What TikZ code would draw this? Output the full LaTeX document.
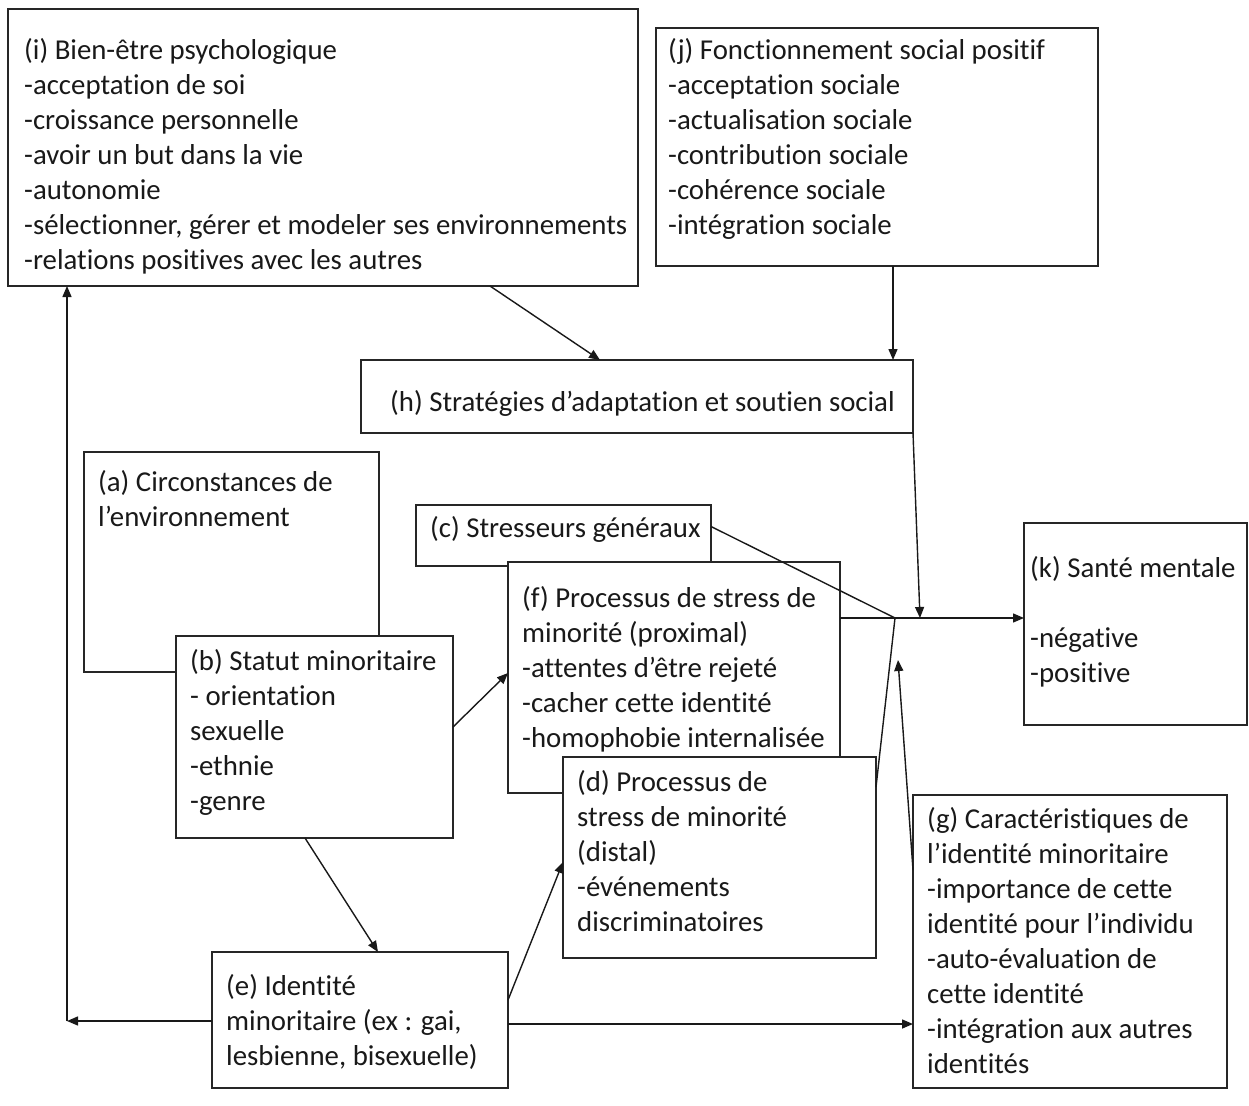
\documentclass[tikz,border=0pt]{standalone}
\usepackage{fontspec}
\setmainfont[Ligatures=NoCommon]{Carlito}
\usetikzlibrary{arrows.meta,calc}
% left-aligned block of lines whose baseline is the first line
\newcommand{\lineblock}[1]{\begin{tabular}[t]{@{}l@{}}#1\end{tabular}}
\begin{document}
\begin{tikzpicture}[x=1pt,y=-1pt,
  box/.style={draw=black!85,line width=1.5pt,fill=white,anchor=north west,inner sep=0pt,outer sep=0pt},
  txt/.style={anchor=base west,inner sep=0pt,text=black!90,font=\fontsize{28.8}{35}\selectfont},
  arr/.style={draw=black!90,line width=1.4pt,-{Triangle[length=11pt,width=9pt]}},
  con/.style={draw=black!90,line width=1.4pt}]
\useasboundingbox (0,0) rectangle (1249,1105);

% boxes and their texts (later boxes overlap earlier ones)
\node[box,minimum width=630,minimum height=277] (i) at (8,9) {};
\node[txt] (ti) at (24,60) {\lineblock{(i) Bien-être psychologique\\-acceptation de soi\\-croissance personnelle\\-avoir un but dans la vie\\-autonomie\\-sélectionner, gérer et modeler ses environnements\\-relations positives avec les autres}};

\node[box,minimum width=442,minimum height=238] (j) at (656,28) {};
\node[txt] (tj) at (668,60) {\lineblock{(j) Fonctionnement social positif\\-acceptation sociale\\-actualisation sociale\\-contribution sociale\\-cohérence sociale\\-intégration sociale}};

\node[box,minimum width=552,minimum height=73] (h) at (361,360) {};
\node[txt] (th) at (390,411) {(h) Stratégies d’adaptation et soutien social};

\node[box,minimum width=295,minimum height=220] (a) at (84,452) {};
\node[txt] (ta) at (98,491) {\lineblock{(a) Circonstances de\\l’environnement}};

\node[box,minimum width=277,minimum height=202] (b) at (176,636) {};
\node[txt] (tb) at (190,670) {\lineblock{(b) Statut minoritaire\\- orientation\\sexuelle\\-ethnie\\-genre}};

\node[box,minimum width=295,minimum height=61] (c) at (416,505) {};
\node[txt] (tc) at (430,537) {(c) Stresseurs généraux};

\node[box,minimum width=332,minimum height=231] (f) at (508,562) {};
\node[txt] (tf) at (522,607) {\lineblock{(f) Processus de stress de\\minorité (proximal)\\-attentes d’être rejeté\\-cacher cette identité\\-homophobie internalisée}};

\node[box,minimum width=313,minimum height=201] (d) at (563,757) {};
\node[txt] (td) at (577,791) {\lineblock{(d) Processus de\\stress de minorité\\(distal)\\-événements\\discriminatoires}};

\node[box,minimum width=296,minimum height=136] (e) at (212,952) {};
\node[txt] (te) at (226,995) {\lineblock{(e) Identité\\minoritaire (ex : gai,\\lesbienne, bisexuelle)}};

\node[box,minimum width=314,minimum height=293] (g) at (913,795) {};
\node[txt] (tg) at (927,828) {\lineblock{(g) Caractéristiques de\\l’identité minoritaire\\-importance de cette\\identité pour l’individu\\-auto-évaluation de\\cette identité\\-intégration aux autres\\identités}};

\node[box,minimum width=223,minimum height=202] (k) at (1024,523) {};
\node[txt] (tk) at (1030,577) {\lineblock{(k) Santé mentale\\ \\-négative\\-positive}};

% meeting points of the paths into (k)
\coordinate (junc) at (895,618);
\coordinate (hin) at (920,618);
\coordinate (gin) at (898,660);
\coordinate (corner) at (67,1021);

% connectors
\draw[arr] ([xshift=482pt]i.south west) -- ([xshift=239pt]h.north west);
\draw[arr] ([xshift=237pt]j.south west) coordinate (jd) -- (jd |- h.north);
\draw[arr] (h.south east) -- (hin);
\draw[arr] (f.east |- junc) -- (k.west |- junc);
\draw[con] ([yshift=9pt]c.east) -- (junc);
\draw[con] ([yshift=-30pt]d.north east) -- (junc);
\draw[arr] ([yshift=-75pt]g.north west) -- (gin);
\draw[arr] ([yshift=10pt]b.east) -- ([yshift=4.5pt]f.west);
\draw[arr] ([xshift=129pt]b.south west) -- ([xshift=166pt]e.north west);
\draw[arr] ([yshift=20pt]e.east) -- ([yshift=-4.5pt]d.west);
\draw[arr] (e.west |- corner) -- (corner);
\draw[arr] (corner) -- (corner |- i.south);
\draw[arr] ([yshift=-4pt]e.east) coordinate (eg) -- (eg -| g.west);
\end{tikzpicture}
\end{document}
